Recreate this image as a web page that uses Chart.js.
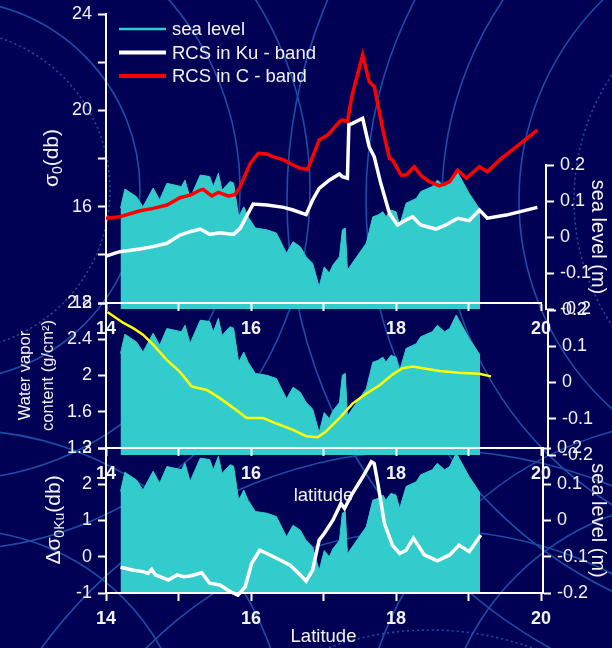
<!DOCTYPE html>
<html>
<head>
<meta charset="utf-8">
<script src="https://cdn.jsdelivr.net/npm/chart.js@4.4.0/dist/chart.umd.min.js"></script>
<style>
  html, body { margin: 0; padding: 0; background: #000055; }
  #wrap { position: relative; width: 612px; height: 648px; overflow: hidden; }
  #wrap canvas { position: absolute; left: 0; top: 0; }
</style>
</head>
<body>
<div id="wrap">
  <canvas id="bg" width="612" height="648"></canvas>
  <canvas id="seaTop" width="612" height="648"></canvas>
  <canvas id="seaMid" width="612" height="648"></canvas>
  <canvas id="seaBot" width="612" height="648"></canvas>
  <canvas id="rcs" width="612" height="648"></canvas>
  <canvas id="vapor" width="612" height="648"></canvas>
  <canvas id="delta" width="612" height="648"></canvas>
</div>
<script>
// latitude labels shared by the three panels
const latTicks = [14, 16, 18, 20];

// sea level (m) along the track, drawn under every panel
const seaLat = [14.2, 14.26, 14.42, 14.51, 14.65, 14.74, 14.84, 15.04, 15.09, 15.16,
  15.3, 15.43, 15.48, 15.55, 15.6, 15.71, 15.76, 15.83, 15.9, 15.96,
  16.06, 16.22, 16.35, 16.49, 16.58, 16.68, 16.76, 16.85, 16.94, 17.01,
  17.08, 17.13, 17.22, 17.26, 17.3, 17.33, 17.59, 17.68, 17.75, 17.82,
  17.86, 17.93, 18.0, 18.05, 18.14, 18.28, 18.34, 18.5, 18.57, 18.67,
  18.74, 18.83, 18.87, 19.01, 19.1, 19.16];
const seaLevel = [0.08, 0.133, 0.112, 0.084, 0.136, 0.103, 0.149, 0.14, 0.158, 0.108,
  0.172, 0.168, 0.14, 0.177, 0.13, 0.154, 0.15, 0.056, 0.084, 0.056,
  0.025, 0.02, 0.011, -0.045, -0.013, -0.027, -0.055, -0.073, -0.138, -0.083,
  -0.1, -0.078, -0.055, 0.02, 0.025, -0.092, -0.017, 0.056, 0.061, 0.07,
  0.056, 0.075, 0.07, 0.033, 0.094, 0.107, 0.126, 0.14, 0.158, 0.14,
  0.149, 0.186, 0.172, 0.121, 0.094, 0.075];

// top panel: radar cross section (db)
const kuLat = [14.0, 14.19, 14.47, 14.65, 14.84, 15.02, 15.16, 15.3, 15.43, 15.57,
  15.76, 15.85, 16.03, 16.22, 16.45, 16.58, 16.76, 16.85, 16.94, 17.08,
  17.22, 17.26, 17.33, 17.35, 17.4, 17.54, 17.63, 17.7, 17.79, 17.91,
  18.02, 18.14, 18.23, 18.34, 18.55, 18.69, 18.85, 19.01, 19.15, 19.26,
  19.52, 19.95];
const kuSigma = [13.95, 14.13, 14.24, 14.34, 14.48, 14.82, 14.96, 15.07, 14.85, 14.92,
  14.85, 15.1, 16.11, 16.07, 15.97, 15.86, 15.67, 16.28, 16.76, 17.1,
  17.36, 17.24, 17.18, 19.4, 19.46, 19.67, 18.49, 18.07, 16.97, 15.72,
  15.24, 15.45, 15.58, 15.24, 15.07, 15.24, 15.52, 15.42, 15.86, 15.52,
  15.65, 15.97];
const cLat = [14.0, 14.19, 14.47, 14.65, 14.84, 15.02, 15.16, 15.3, 15.34, 15.46,
  15.55, 15.69, 15.78, 15.85, 15.99, 16.1, 16.22, 16.31, 16.45, 16.58,
  16.68, 16.78, 16.85, 16.94, 17.06, 17.22, 17.26, 17.33, 17.39, 17.54,
  17.63, 17.7, 17.82, 17.91, 17.95, 18.07, 18.14, 18.25, 18.34, 18.46,
  18.6, 18.74, 18.85, 18.97, 19.15, 19.26, 19.43, 19.95];
const cSigma = [15.52, 15.58, 15.83, 15.93, 16.07, 16.37, 16.48, 16.69, 16.72, 16.45,
  16.59, 16.44, 16.51, 16.83, 17.8, 18.22, 18.19, 18.07, 17.94, 17.73,
  17.59, 17.55, 18.07, 18.77, 18.98, 19.53, 19.6, 19.53, 20.57, 22.3,
  21.19, 20.98, 19.18, 18.0, 17.94, 17.31, 17.31, 17.66, 17.31, 17.04,
  16.86, 17.04, 17.52, 17.18, 17.66, 17.45, 17.94, 19.18];

// middle panel: water vapor content (g/cm2)
const vapLat = [14.02, 14.24, 14.38, 14.51, 14.65, 14.84, 15.02, 15.18, 15.39, 15.57,
  15.76, 15.94, 16.17, 16.35, 16.58, 16.76, 16.92, 17.03, 17.22, 17.4,
  17.59, 17.77, 17.95, 18.09, 18.23, 18.37, 18.6, 18.87, 19.15, 19.31];
const vapour = [2.70, 2.58, 2.52, 2.45, 2.34, 2.17, 2.04, 1.88, 1.84, 1.75,
  1.64, 1.53, 1.53, 1.47, 1.40, 1.33, 1.32, 1.38, 1.53, 1.69,
  1.80, 1.89, 2.01, 2.08, 2.10, 2.08, 2.05, 2.03, 2.02, 1.99];

// bottom panel: Ku band difference (db)
const dLat = [14.2, 14.38, 14.51, 14.58, 14.63, 14.68, 14.86, 14.98, 15.07, 15.16,
  15.32, 15.43, 15.57, 15.71, 15.82, 15.92, 16.01, 16.12, 16.22, 16.4,
  16.54, 16.68, 16.76, 16.85, 16.94, 17.01, 17.13, 17.24, 17.29, 17.4,
  17.54, 17.66, 17.7, 17.75, 17.84, 17.95, 18.05, 18.14, 18.24, 18.39,
  18.57, 18.74, 18.87, 19.01, 19.17];
const dSigma = [-0.29, -0.37, -0.41, -0.46, -0.35, -0.5, -0.64, -0.5, -0.55, -0.53,
  -0.44, -0.73, -0.78, -0.96, -1.06, -0.83, -0.18, 0.18, 0.09, -0.09,
  -0.23, -0.5, -0.67, -0.37, 0.46, 0.64, 1.01, 1.47, 1.33, 1.75,
  2.2, 2.62, 2.57, 2.02, 0.92, 0.32, 0.09, 0.18, 0.51, 0.05,
  -0.11, 0.05, 0.32, 0.14, 0.6];

const TEXT = '#f2f2f2';
const AXIS = '#ffffff';
const SEA = '#33cccc';
const FAM = '"Liberation Sans", Arial, sans-serif';
const FONT = { family: FAM, size: 18 };
const BOLD = { family: FAM, size: 18, weight: 'bold' };

Chart.defaults.font.family = FAM;
Chart.defaults.color = TEXT;

const pts = (xs, ys) => xs.map((x, i) => ({ x: x, y: ys[i] }));

// draw the slide background with its thin rings
function drawBackground() {
  const ctx = document.getElementById('bg').getContext('2d');
  ctx.fillStyle = '#000055';
  ctx.fillRect(0, 0, 612, 648);
  const rings = [
    [-50, 190, 160, true], [-50, 190, 190, false], [-50, 190, 290, false], [-50, 190, 360, false],
    [800, 200, 226, true], [800, 200, 281, false], [800, 200, 358, false], [800, 200, 434, false],
    [800, 200, 513, false], [430, 930, 300, true], [430, 930, 400, false], [430, 930, 480, false],
    [-40, 760, 230, false], [-40, 760, 330, false], [700, 760, 260, false], [700, 760, 340, false]
  ];
  ctx.strokeStyle = '#1d4ea6';
  ctx.lineWidth = 1.6;
  rings.forEach(r => {
    ctx.setLineDash(r[3] ? [2, 3] : []);
    ctx.beginPath();
    ctx.arc(r[0], r[1], r[2], 0, Math.PI * 2);
    ctx.stroke();
  });
  ctx.setLineDash([]);
}

// keep every axis box at a fixed size so the panels line up
function fixBox(size) {
  return function (s) {
    if (s.isHorizontal()) s.height = size; else s.width = size;
    s.paddingLeft = s.paddingRight = s.paddingTop = s.paddingBottom = 0;
  };
}

const tickGrid = { display: true, drawOnChartArea: false, drawTicks: true, tickLength: 8, tickWidth: 2, tickColor: AXIS };
const border = { display: true, color: AXIS, width: 2 };

function latAxis(height, title, titlePad) {
  return {
    type: 'linear', position: 'bottom', min: 14, max: 20,
    afterFit: fixBox(height), border: border, grid: tickGrid,
    ticks: { stepSize: 1, padding: 7, color: TEXT, font: BOLD, maxRotation: 0, autoSkip: false,
      callback: v => latTicks.includes(v) ? String(v) : '' },
    title: { display: !!title, text: title || '', color: TEXT, font: { family: FAM, size: 18.5 },
      padding: { top: 0, bottom: titlePad || 0 } }
  };
}

function seaChart(id, top, bottom, right, withTitle) {
  new Chart(document.getElementById(id), {
    type: 'line',
    data: { datasets: [{ label: 'sea level', data: pts(seaLat, seaLevel), fill: 'start',
      backgroundColor: SEA, borderColor: SEA, borderWidth: 1, pointRadius: 0, tension: 0 }] },
    options: {
      responsive: false, animation: false, events: [],
      layout: { autoPadding: false, padding: { left: 106, top: top, right: 0, bottom: 648 - bottom } },
      plugins: { legend: { display: false }, tooltip: { enabled: false } },
      scales: {
        x: { type: 'linear', display: false, min: 14, max: 14 + (right - 106) / 72.5 },
        y: { position: 'right', min: -0.2, max: 0.2, afterFit: fixBox(612 - right),
          border: border, grid: tickGrid,
          ticks: { stepSize: 0.05, padding: 6, color: TEXT, font: FONT,
            callback: v => Math.round(v * 100) % 10 === 0 ? String(Math.round(v * 10) / 10) : '' },
          title: { display: withTitle, text: 'sea level (m)', color: TEXT,
            font: { family: FAM, size: 20, lineHeight: 1.2 }, padding: 2 } }
      }
    }
  });
}

// rotated axis title with subscripts
function subTitle(id, parts, x, y) {
  return {
    id: id,
    afterDraw(chart) {
      const ctx = chart.ctx;
      const big = '21px ' + FAM, small = '14px ' + FAM;
      ctx.save();
      ctx.translate(x, y);
      ctx.rotate(-Math.PI / 2);
      let w = 0;
      parts.forEach(p => { ctx.font = p[1] ? small : big; w += ctx.measureText(p[0]).width; });
      let cx = -w / 2;
      ctx.fillStyle = TEXT;
      ctx.textBaseline = 'middle';
      parts.forEach(p => {
        ctx.font = p[1] ? small : big;
        ctx.fillText(p[0], cx, p[1] ? 6 : 0);
        cx += ctx.measureText(p[0]).width;
      });
      ctx.restore();
    }
  };
}

// legend for the top panel, sea level first
const lineLegend = {
  id: 'lineLegend',
  afterDraw(chart) {
    const ctx = chart.ctx;
    const items = [{ label: 'sea level', color: SEA, width: 2.5 }].concat(
      chart.data.datasets.map(d => ({ label: d.label, color: d.borderColor, width: 4 })));
    ctx.save();
    ctx.font = '18.5px ' + FAM;
    ctx.textBaseline = 'middle';
    items.forEach((it, i) => {
      const y = 29 + i * 23.5;
      ctx.strokeStyle = it.color;
      ctx.lineWidth = it.width;
      ctx.beginPath();
      ctx.moveTo(119, y);
      ctx.lineTo(166, y);
      ctx.stroke();
      ctx.fillStyle = TEXT;
      ctx.fillText(it.label, 172, y + 1);
    });
    ctx.restore();
  }
};

drawBackground();
seaChart('seaTop', 165, 309, 546, true);
seaChart('seaMid', 310, 455, 548, false);
seaChart('seaBot', 448, 593, 543, true);

new Chart(document.getElementById('rcs'), {
  type: 'line',
  data: { datasets: [
    { label: 'RCS in Ku - band', data: pts(kuLat, kuSigma), borderColor: '#ffffff', borderWidth: 3.5, pointRadius: 0, fill: false },
    { label: 'RCS in C - band', data: pts(cLat, cSigma), borderColor: '#ff0000', borderWidth: 3.5, pointRadius: 0, fill: false }
  ] },
  options: {
    responsive: false, animation: false, events: [],
    layout: { autoPadding: false, padding: { left: 0, top: 14, right: 71, bottom: 0 } },
    plugins: { legend: { display: false }, tooltip: { enabled: false } },
    scales: {
      x: latAxis(345),
      y: { position: 'left', min: 12, max: 24, afterFit: fixBox(106), border: border, grid: tickGrid,
        ticks: { stepSize: 2, padding: 6, color: TEXT, font: FONT, callback: v => v % 4 === 0 ? String(v) : '' } }
    }
  },
  plugins: [lineLegend, subTitle('sigmaTitle', [['σ', false], ['0', true], ['(db)', false]], 52, 158)]
});

new Chart(document.getElementById('vapor'), {
  type: 'line',
  data: { datasets: [
    { label: 'water vapor', data: pts(vapLat, vapour), borderColor: '#ffff00', borderWidth: 2.5, pointRadius: 0, fill: false }
  ] },
  options: {
    responsive: false, animation: false, events: [],
    layout: { autoPadding: false, padding: { left: 0, top: 303, right: 71, bottom: 0 } },
    plugins: { legend: { display: false }, tooltip: { enabled: false } },
    scales: {
      x: latAxis(200, 'latitude', 141),
      y: { position: 'left', min: 1.2, max: 2.8, afterFit: fixBox(106), border: border, grid: tickGrid,
        ticks: { stepSize: 0.2, padding: 6, color: TEXT, font: FONT,
          callback: v => Math.round((v - 1.2) * 10) % 4 === 0 ? String(Math.round(v * 10) / 10) : '' },
        title: { display: true, text: ['Water vapor', 'content (g/cm²)'], color: TEXT,
          font: { family: FAM, size: 16.5, lineHeight: 1.4 }, padding: { top: 14, bottom: 0 } } }
    }
  }
});

new Chart(document.getElementById('delta'), {
  type: 'line',
  data: { datasets: [
    { label: 'delta Ku', data: pts(dLat, dSigma), borderColor: '#ffffff', borderWidth: 3.5, pointRadius: 0, fill: false, clip: 4 }
  ] },
  options: {
    responsive: false, animation: false, events: [],
    layout: { autoPadding: false, padding: { left: 0, top: 448, right: 71, bottom: 0 } },
    plugins: { legend: { display: false }, tooltip: { enabled: false } },
    scales: {
      x: latAxis(55, 'Latitude', 0),
      y: { position: 'left', min: -1, max: 3, afterFit: fixBox(106), border: border, grid: tickGrid,
        ticks: { stepSize: 0.5, padding: 6, color: TEXT, font: FONT,
          callback: v => Number.isInteger(v) ? String(v) : '' } }
    }
  },
  plugins: [subTitle('deltaTitle', [['Δσ', false], ['0Ku', true], ['(db)', false]], 54, 520)]
});
</script>
</body>
</html>
